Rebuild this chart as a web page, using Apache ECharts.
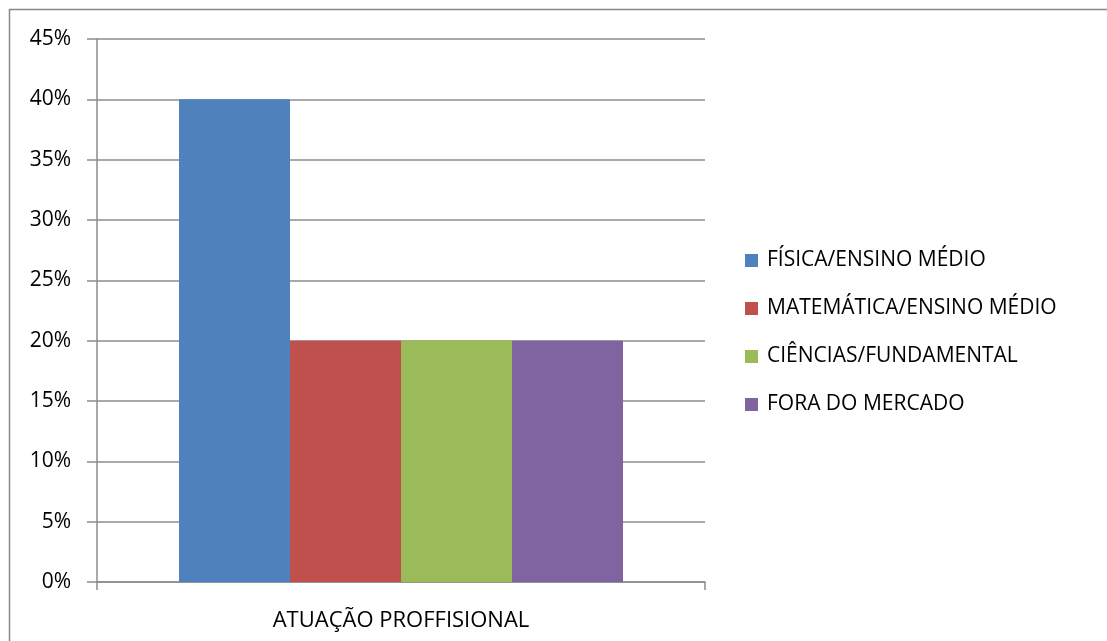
<!DOCTYPE html>
<html>
<head>
<meta charset="utf-8">
<script src="https://cdn.jsdelivr.net/npm/echarts@6/dist/echarts.min.js"></script>
<style>
  html, body { margin: 0; padding: 0; background: #fff; }
  #chart { width: 1107px; height: 641px; }
</style>
</head>
<body>
<div id="chart"></div>
<script>
// dados do gráfico
var categorias = ['ATUAÇÃO PROFFISIONAL'];
var series_nomes = ['FÍSICA/ENSINO MÉDIO', 'MATEMÁTICA/ENSINO MÉDIO', 'CIÊNCIAS/FUNDAMENTAL', 'FORA DO MERCADO'];
var fisica = [0.40];
var matematica = [0.20];
var ciencias = [0.20];
var fora = [0.20];
var cores = ['#4F81BD', '#C0504D', '#9BBB59', '#8064A2'];

var fonte = '"Open Sans", "Noto Sans", sans-serif';
var valores = [fisica, matematica, ciencias, fora];

var myChart = echarts.init(document.getElementById('chart'));
var option = {
    animation: false,
    color: cores,
    graphic: [
        {   // moldura externa
            type: 'rect',
            shape: { x: 9.5, y: 9.5, width: 1200, height: 1000 },
            style: { fill: 'none', stroke: '#888', lineWidth: 1.5 },
            silent: true
        }
    ],
    grid: {
        left: 97,
        right: 402,
        top: 39,
        bottom: 59
    },
    legend: {
        orient: 'vertical',
        left: 745,
        top: 250,
        padding: 0,
        itemWidth: 13,
        itemHeight: 13,
        itemGap: 27,
        icon: 'rect',
        textStyle: { fontFamily: fonte, fontSize: 21, color: '#000', padding: [0, 0, 0, 4] },
        data: series_nomes
    },
    xAxis: {
        type: 'category',
        data: categorias,
        axisLine: { lineStyle: { color: '#8c8c8c', width: 1.5 } },
        axisTick: { show: true, length: 8, lineStyle: { color: '#8c8c8c', width: 1.5 } },
        axisLabel: { margin: 28, fontFamily: fonte, fontSize: 22, color: '#000' }
    },
    yAxis: {
        type: 'value',
        min: 0,
        max: 0.45,
        interval: 0.05,
        axisLine: { show: true, lineStyle: { color: '#8c8c8c', width: 1.5 } },
        axisTick: { show: true, length: 10, lineStyle: { color: '#8c8c8c', width: 1.5 } },
        splitLine: { lineStyle: { color: '#8c8c8c', width: 1.5 } },
        axisLabel: {
            margin: 26,
            fontFamily: fonte,
            fontSize: 21,
            color: '#000',
            formatter: function (v) { return Math.round(v * 100) + '%'; }
        }
    },
    series: series_nomes.map(function (nome, i) {
        return {
            name: nome,
            type: 'bar',
            barWidth: 111,
            barGap: '0%',
            data: valores[i]
        };
    })
};
myChart.setOption(option);
</script>
</body>
</html>
